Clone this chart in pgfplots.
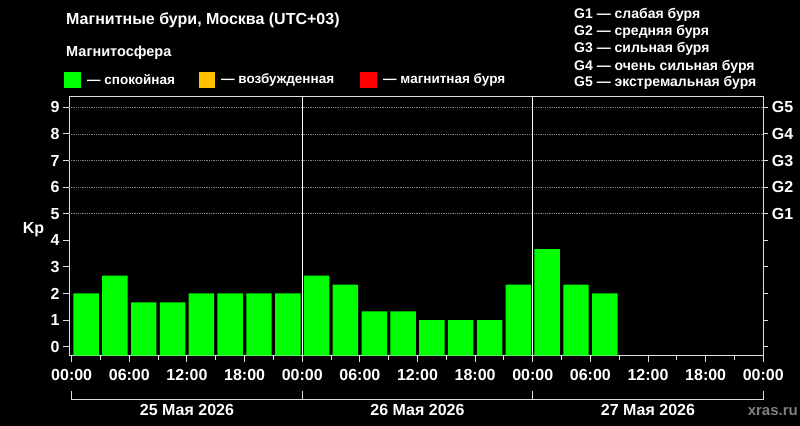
\documentclass[border=0pt]{standalone}
\usepackage{fontspec}
\setmainfont{Liberation Sans}
\usepackage{pgfplots}
\pgfplotsset{compat=1.18}

\definecolor{kpgreen}{HTML}{00FF00}
\definecolor{kporange}{HTML}{FFC000}
\definecolor{kpred}{HTML}{FF0000}
\definecolor{axgray}{HTML}{E0E0E0}
\definecolor{wmgray}{HTML}{808080}
\newcommand\fs[1]{\fontsize{#1bp}{#1bp}\selectfont\bfseries}

% bars must rise from the bottom of the frame (Kp = -0.34), not from Kp = 0
\pgfplotsset{
  kpframe/.style={
    at={(69bp,70.3bp)}, anchor=south west,
    scale only axis, width=694.3bp, height=259bp,
    xmin=-0.28, xmax=72, ymin=-0.34, ymax=9.4,
    y coord trafo/.code={\pgfmathparse{##1+0.34}},
    y coord inv trafo/.code={\pgfmathparse{##1-0.34}},
    tick align=outside,
    axis line style={axgray, line width=1bp},
    tick style={axgray, line width=1bp},
    ticklabel style={font=\fs{16}, text=white},
    /pgf/number format/assume math mode=true,
  },
}

\begin{document}
\begin{tikzpicture}
\fill[black] (0,0) rectangle (800bp,426bp);

\begin{axis}[
  kpframe,
  tick pos=left,
  xtick={0,6,...,72},
  minor xtick={3,9,...,69},
  xticklabels={00:00,06:00,12:00,18:00,00:00,06:00,12:00,18:00,00:00,06:00,12:00,18:00,00:00},
  xticklabel style={yshift=-4bp},
  ytick={0,1,2,3,4,5,6,7,8,9},
  yticklabels={0,1,2,3,4,5,6,7,8,9},
  major tick length=6bp, minor tick length=4bp,
  clip=false,
]
  % Kp every 3 hours, 25--27 May
  \addplot[ybar, bar width=2.65, fill=kpgreen, draw=none] coordinates {
    (1.5,2) (4.5,2.67) (7.5,1.67) (10.5,1.67) (13.5,2) (16.5,2) (19.5,2) (22.5,2)
    (25.5,2.67) (28.5,2.33) (31.5,1.33) (34.5,1.33) (37.5,1) (40.5,1) (43.5,1) (46.5,2.33)
    (49.5,3.67) (52.5,2.33) (55.5,2)
  };
  \pgfplotsinvokeforeach{5,...,9}{
    \draw[gray, densely dotted, line width=0.8bp] (axis cs:-0.28,#1) -- (axis cs:72,#1);
  }
  \draw[white, line width=1bp] ({axis cs:24,0} |- {rel axis cs:0,0}) -- ({axis cs:24,0} |- {rel axis cs:0,1});
  \draw[white, line width=1bp] ({axis cs:48,0} |- {rel axis cs:0,0}) -- ({axis cs:48,0} |- {rel axis cs:0,1});
\end{axis}

\begin{axis}[
  kpframe,
  hide x axis,
  axis y line*=right,
  ytick={0,1,2,3,4,5,6,7,8,9},
  yticklabels={,,,,,G1,G2,G3,G4,G5},
  major tick length=5bp,
]
\end{axis}

\begin{scope}[x=1bp,y=1bp]
% titles and legend
\node[anchor=west, inner sep=0, text=white, font=\fs{16}] at (66,406) {Магнитные бури, Москва (UTC+03)};
\node[anchor=west, inner sep=0, text=white, font=\fs{14.5}] at (66,373) {Магнитосфера};
\fill[kpgreen]  (64,338) rectangle (81,354);
\fill[kporange] (199,338) rectangle (215,354);
\fill[kpred]    (360,338) rectangle (377,354);
\node[anchor=west, inner sep=0, text=white, font=\fs{13.5}] at (87,346) {— спокойная};
\node[anchor=west, inner sep=0, text=white, font=\fs{13.5}] at (221,346) {— возбужденная};
\node[anchor=west, inner sep=0, text=white, font=\fs{13.5}] at (383,346) {— магнитная буря};

\node[anchor=west, inner sep=0, text=white, font=\fs{14}] at (574,411) {G1 — слабая буря};
\node[anchor=west, inner sep=0, text=white, font=\fs{14}] at (574,394) {G2 — средняя буря};
\node[anchor=west, inner sep=0, text=white, font=\fs{14}] at (574,377) {G3 — сильная буря};
\node[anchor=west, inner sep=0, text=white, font=\fs{14}] at (574,359.5) {G4 — очень сильная буря};
\node[anchor=west, inner sep=0, text=white, font=\fs{14}] at (574,343) {G5 — экстремальная буря};

\node[anchor=base west, inner sep=0, text=white, font=\fs{16}] at (22.7,192.3) {Kp};

% day bracket
\draw[axgray, line width=1bp] (71.7,35.3) -- (71.7,26.7) -- (763.3,26.7) -- (763.3,35.3);
\draw[axgray, line width=1bp] (302.2,26.7) -- (302.2,35.3);
\draw[axgray, line width=1bp] (532.8,26.7) -- (532.8,35.3);
\node[anchor=base, inner sep=0, text=white, font=\fs{16}] at (187,11) {25 Мая 2026};
\node[anchor=base, inner sep=0, text=white, font=\fs{16}] at (417.5,11) {26 Мая 2026};
\node[anchor=base, inner sep=0, text=white, font=\fs{16}] at (648,11) {27 Мая 2026};
\node[anchor=base east, inner sep=0, text=wmgray, font=\fs{15}] at (798,11) {xras.ru};
\end{scope}
\end{tikzpicture}
\end{document}
